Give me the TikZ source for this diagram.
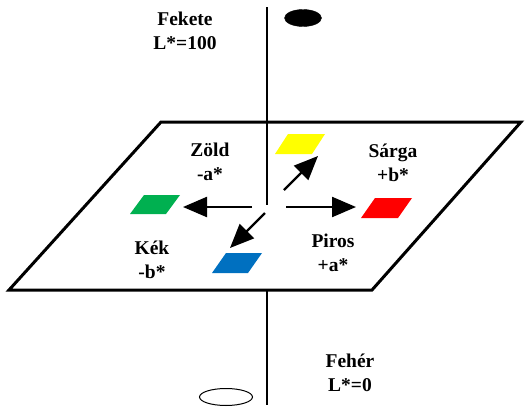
\documentclass[tikz,border=0pt]{standalone}
\usepackage{fontspec}
\setmainfont{Liberation Serif}
\usetikzlibrary{arrows.meta,shapes.geometric}
\tikzset{
  lbl/.style={align=center, inner sep=0pt, font=\fontsize{19.5}{24}\selectfont\bfseries},
  axisline/.style={line width=2pt},
  planeedge/.style={line width=3pt, line join=miter},
  dirarrow/.style={line width=2.3pt, -{Triangle[length=24pt,width=20pt]}}
}
\definecolor{cyellow}{HTML}{FFFF00}
\definecolor{cgreen}{HTML}{00B050}
\definecolor{cred}{HTML}{FF0000}
\definecolor{cblue}{HTML}{0070C0}
\begin{document}
\begin{tikzpicture}[x=1pt,y=-1pt]
  \useasboundingbox (0,0) rectangle (528,410);
  % lightness axis
  \coordinate (axtop) at (267,7);
  \coordinate (axmid) at (267,205);
  \coordinate (axlow) at (267,289);
  \coordinate (axbot) at (267,405);
  % a*b* plane
  \coordinate (p1) at (161,122);
  \coordinate (p2) at (521,122);
  \coordinate (p3) at (372,290);
  \coordinate (p4) at (9,290);
  \draw[planeedge] (p1) -- (p2) -- (p3) -- (p4) -- cycle;
  \draw[axisline] (axtop) -- (axmid);
  \draw[axisline] (axlow) -- (axbot);
  % black and white poles
  \node[ellipse, fill=black, draw=black, minimum width=37pt, minimum height=17pt, inner sep=0pt] (black) at (303,18) {};
  \node[ellipse, draw=black, line width=1pt, minimum width=53pt, minimum height=17pt, inner sep=0pt] (white) at (226,397) {};
  % colour patches
  \fill[cyellow] (275,154) -- (312,154) -- (325,134) -- (288,134) -- cycle;
  \fill[cgreen] (130,214) -- (166,214) -- (180,195) -- (144,195) -- cycle;
  \fill[cred] (361,218) -- (398,218) -- (412,198) -- (375,198) -- cycle;
  \fill[cblue] (212,273) -- (248,273) -- (262,253) -- (226,253) -- cycle;
  % direction arrows
  \coordinate (lS) at (252,207); \coordinate (lE) at (183,207);
  \coordinate (rS) at (286,207); \coordinate (rE) at (356,207);
  \coordinate (uS) at (284,190); \coordinate (uE) at (318,156);
  \coordinate (dS) at (265,213); \coordinate (dE) at (230,248);
  \draw[dirarrow] (lS) -- (lE);
  \draw[dirarrow] (rS) -- (rE);
  \draw[dirarrow] (uS) -- (uE);
  \draw[dirarrow] (dS) -- (dE);
  % labels
  \node[lbl] (fekete) at (185,31) {Fekete\\L*=100};
  \node[lbl] (feher) at (350,373) {Fehér\\L*=0};
  \node[lbl] (zold) at (210,162) {Zöld\\-a*};
  \node[lbl] (sarga) at (393,163) {Sárga\\+b*};
  \node[lbl] (kek) at (152,260) {Kék\\-b*};
  \node[lbl] (piros) at (333,253) {Piros\\+a*};
\end{tikzpicture}
\end{document}
